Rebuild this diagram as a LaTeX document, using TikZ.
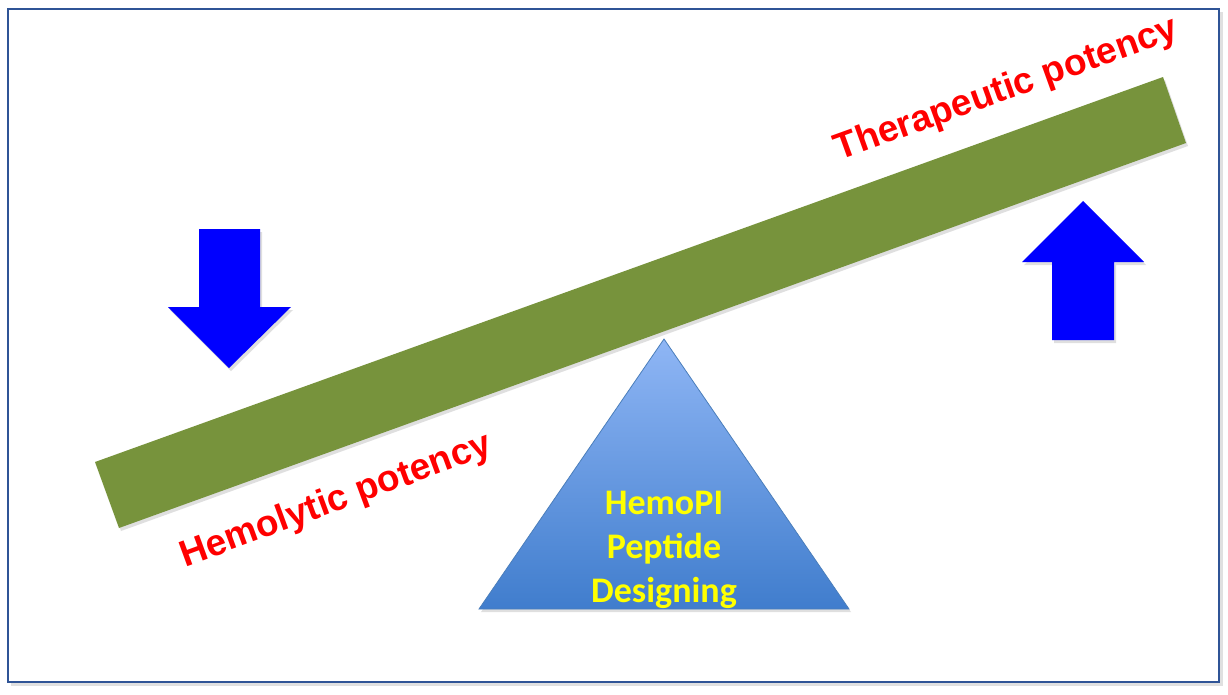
\documentclass[tikz,border=0pt]{standalone}
\usepackage{fontspec}
\newfontfamily\arialfam{Liberation Sans}[BoldFont={Liberation Sans Bold}]
\newfontfamily\calib{Carlito}[BoldFont={Carlito Bold}]
\usetikzlibrary{shadows}
\definecolor{framecol}{HTML}{2F5496}
\definecolor{barcol}{HTML}{77933C}
\definecolor{tritop}{HTML}{8FB6F5}
\definecolor{tribot}{HTML}{407DCD}
\definecolor{triedge}{HTML}{4A7EBB}
\definecolor{arrowcol}{HTML}{0000FF}
\definecolor{redtxt}{HTML}{FF0000}
\definecolor{yeltxt}{HTML}{FFFF00}
\tikzset{
  softshadow/.style={drop shadow={opacity=0.25,shadow xshift=2pt,shadow yshift=-3pt}},
  redlabel/.style={text=redtxt,font=\arialfam\bfseries\fontsize{37}{44}\selectfont,anchor=base,inner sep=0pt},
  triangletext/.style={text=yeltxt,font=\calib\bfseries\fontsize{36}{44}\selectfont,align=center,inner sep=0pt},
  bluearrow/.style={fill=arrowcol,draw=none,softshadow}
}
\begin{document}
\begin{tikzpicture}[x=1pt,y=-1pt]
\path[use as bounding box] (0,0) rectangle (1228,694);
% frame with shadow
\fill[black!12] (11,12) rectangle (1223,686);
\fill[white] (8,9) rectangle (1219,682);
\draw[framecol,line width=2pt] (8,9) rectangle (1219,682);
% lever bar
\fill[barcol,softshadow] (95,462) -- (1163,77) -- (1186,143) -- (119,528) -- cycle;
% fulcrum triangle
\shade[top color=tritop,bottom color=tribot,draw=triedge,line width=0.8pt,softshadow]
  (664,339) -- (849,609) -- (479,609) -- cycle;
\node[triangletext] (tri) at (664,550) {HemoPI\\Peptide\\Designing};
% arrows
\path[bluearrow] (199,229) -- (260,229) -- (260,307) -- (291,307) -- (229,368) -- (168,307) -- (199,307) -- cycle;
\path[bluearrow] (1083,201) -- (1144,262) -- (1114,262) -- (1114,340) -- (1052,340) -- (1052,262) -- (1022,262) -- cycle;
% labels
\node[redlabel,rotate=20.2] (hemo) at (339.5,510.5) {Hemolytic potency};
\node[redlabel,rotate=19.8] (thera) at (1010,99) {Therapeutic potency};
\end{tikzpicture}
\end{document}
